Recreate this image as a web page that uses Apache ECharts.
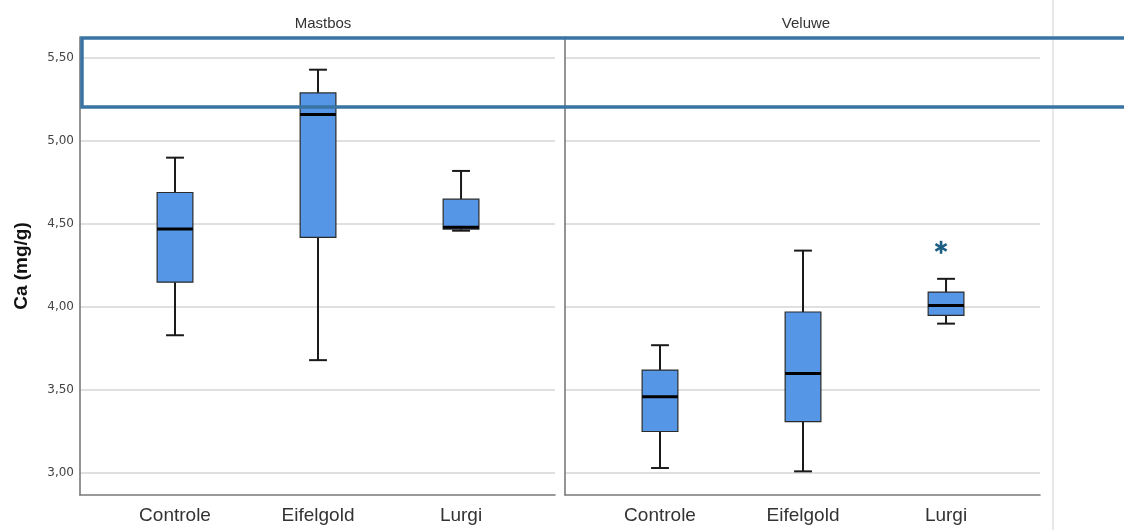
<!DOCTYPE html>
<html><head><meta charset="utf-8">
<script src="https://cdn.jsdelivr.net/npm/echarts@6/dist/echarts.min.js"></script>
<style>html,body{margin:0;padding:0;background:#fff}#c{width:1124px;height:530px}</style>
</head><body><div id="c"></div>
<script>
// ---- data ----
const panels = ['Mastbos', 'Veluwe'];
const categories = ['Controle', 'Eifelgold', 'Lurgi'];
// [min whisker, Q1, median, Q3, max whisker]
const mastbosBoxes = [
  [3.83, 4.15, 4.47, 4.69, 4.90],
  [3.68, 4.42, 5.16, 5.29, 5.43],
  [4.46, 4.47, 4.48, 4.65, 4.82]
];
const veluweBoxes = [
  [3.03, 3.25, 3.46, 3.62, 3.77],
  [3.01, 3.31, 3.60, 3.97, 4.34],
  [3.90, 3.95, 4.01, 4.09, 4.17]
];
// outliers: [category index (1-based), value]
const mastbosOutliers = [];
const veluweOutliers = [[3, 4.36]];
const yTicks = [3.0, 3.5, 4.0, 4.5, 5.0, 5.5];
const yTitle = 'Ca (mg/g)';

// ---- chart ----
const chart = echarts.init(document.getElementById('c'), null, {renderer: 'canvas'});
const fmt = v => v.toFixed(2).replace('.', ',');
const X_MIN = 0.3357, X_MAX = 3.657, Y_MIN = 2.8675, Y_MAX = 5.627;

function boxRender(params, api) {
  const x = api.value(0);
  const lo = api.coord([x, api.value(1)]);
  const q1 = api.coord([x, api.value(2)]);
  const md = api.coord([x, api.value(3)]);
  const q3 = api.coord([x, api.value(4)]);
  const hi = api.coord([x, api.value(5)]);
  const bw = api.size([1, 0])[0] * 0.25;
  const cw = api.size([1, 0])[0] * 0.125;
  const cx = lo[0];
  const ws = {stroke: '#1a1a1a', lineWidth: 2};
  return {
    type: 'group',
    children: [
      {type: 'line', shape: {x1: cx, y1: hi[1], x2: cx, y2: q3[1]}, style: ws},
      {type: 'line', shape: {x1: cx, y1: q1[1], x2: cx, y2: lo[1]}, style: ws},
      {type: 'line', shape: {x1: cx - cw / 2, y1: hi[1], x2: cx + cw / 2, y2: hi[1]}, style: ws},
      {type: 'line', shape: {x1: cx - cw / 2, y1: lo[1], x2: cx + cw / 2, y2: lo[1]}, style: ws},
      {type: 'rect', shape: {x: cx - bw / 2, y: q3[1], width: bw, height: q1[1] - q3[1]},
        style: {fill: '#5596e6', stroke: '#2b2b2b', lineWidth: 1.2}},
      {type: 'line', shape: {x1: cx - bw / 2, y1: md[1], x2: cx + bw / 2, y2: md[1]},
        style: {stroke: '#000', lineWidth: 3}}
    ]
  };
}
function outlierRender(params, api) {
  const p = api.coord([api.value(0), api.value(1)]);
  const cx = p[0] - 5, cy = p[1], r = 6.5;
  const st = {stroke: '#1d5f82', lineWidth: 2.6};
  const kids = [];
  for (let k = 0; k < 3; k++) {
    const a = Math.PI / 2 + k * Math.PI / 3;
    kids.push({type: 'line', shape: {x1: cx - r * Math.cos(a), y1: cy - r * Math.sin(a),
      x2: cx + r * Math.cos(a), y2: cy + r * Math.sin(a)}, style: st});
  }
  return {type: 'group', children: kids};
}

const grids = [
  {left: 80, width: 475, top: 37, bottom: 35},
  {left: 565, width: 475, top: 37, bottom: 35}
];
const axisLineStyle = {color: '#7a7a7a', width: 1.6};
const xAxes = grids.map((g, i) => ({
  type: 'value', gridIndex: i, min: X_MIN, max: X_MAX,
  axisLine: {show: true, onZero: false, lineStyle: axisLineStyle},
  axisTick: {show: false, customValues: [1, 2, 3]},
  splitLine: {show: false},
  axisLabel: {customValues: [1, 2, 3], formatter: v => categories[Math.round(v) - 1] || '',
    fontSize: 19, color: '#333', fontFamily: 'Liberation Sans, Arial', margin: 11}
}));
const yAxes = grids.map((g, i) => ({
  type: 'value', gridIndex: i, min: Y_MIN, max: Y_MAX,
  name: i === 0 ? yTitle : '', nameLocation: 'middle', nameGap: 49,
  nameTextStyle: {fontSize: 19, fontWeight: 'bold', color: '#111', fontFamily: 'Liberation Sans, Arial'},
  axisLine: {show: true, lineStyle: axisLineStyle},
  axisTick: {show: false, customValues: yTicks},
  splitLine: {show: true, lineStyle: {color: '#d6d6d6', width: 1.6}},
  axisLabel: {show: i === 0, customValues: yTicks, formatter: fmt, fontSize: 12, color: '#444',
    fontFamily: 'DejaVu Sans', margin: 6}
}));
const series = [];
[mastbosBoxes, veluweBoxes].forEach((boxes, i) => {
  series.push({
    type: 'custom', xAxisIndex: i, yAxisIndex: i, z: 3,
    data: boxes.map((b, j) => [j + 1].concat(b)),
    encode: {x: 0, y: [1, 2, 3, 4, 5]},
    renderItem: boxRender, silent: true
  });
});
[mastbosOutliers, veluweOutliers].forEach((outs, i) => {
  series.push({
    type: 'custom', xAxisIndex: i, yAxisIndex: i, z: 4,
    data: outs, encode: {x: 0, y: 1}, renderItem: outlierRender, silent: true
  });
});

chart.setOption({
  animation: false,
  backgroundColor: '#fff',
  title: panels.map((p, i) => ({
    text: p, left: i === 0 ? 318 : 801, top: 11, textAlign: 'center',
    textStyle: {fontSize: 15, fontWeight: 'normal', color: '#333', fontFamily: 'Liberation Sans, Arial'}
  })),
  grid: grids,
  xAxis: xAxes,
  yAxis: yAxes,
  series: series,
  graphic: [
    {type: 'line', shape: {x1: 1053, y1: 0, x2: 1053, y2: 530}, style: {stroke: '#d8d8d8', lineWidth: 1.2}, z: 1},
    {type: 'rect', shape: {x: 82, y: 38, width: 1100, height: 69}, style: {fill: 'none', stroke: '#3a74a4', lineWidth: 3.5}, z: 100}
  ]
});
</script></body></html>
